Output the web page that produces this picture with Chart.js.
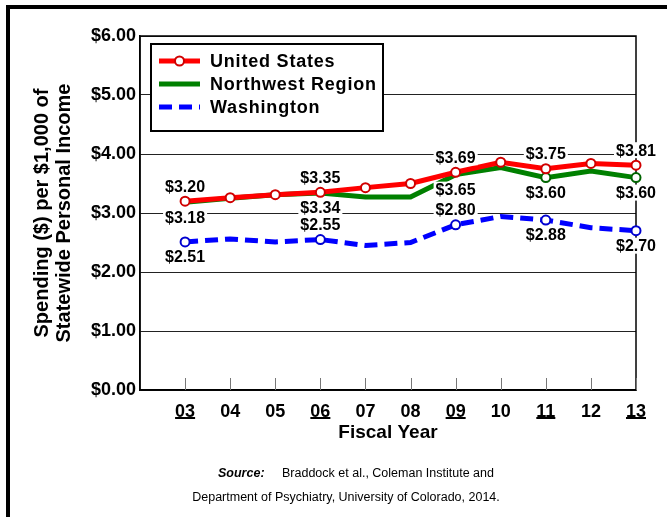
<!DOCTYPE html>
<html>
<head>
<meta charset="utf-8">
<script src="https://cdn.jsdelivr.net/npm/chart.js@4"></script>
<style>
  html, body { margin: 0; padding: 0; background: #fff; }
  #wrap { width: 667px; height: 517px; }
</style>
</head>
<body>
<div id="wrap"><canvas id="myChart" width="667" height="517"></canvas></div>
<script>
const ctx = document.getElementById("myChart").getContext("2d");

// data
const years = ["03", "04", "05", "06", "07", "08", "09", "10", "11", "12", "13"];
const usSpending = [3.20, 3.26, 3.31, 3.35, 3.43, 3.50, 3.69, 3.86, 3.75, 3.84, 3.81];
const nwSpending = [3.18, 3.25, 3.31, 3.34, 3.27, 3.27, 3.65, 3.77, 3.60, 3.71, 3.60];
const waSpending = [2.51, 2.56, 2.51, 2.55, 2.45, 2.50, 2.80, 2.94, 2.88, 2.75, 2.70];
const seriesNames = ["United States", "Northwest Region", "Washington"];
const labeledYears = ["03", "06", "09", "11", "13"];
const nwMarkerYears = ["11", "13"];

// label side per dataset, per labeled year (-1 above, +1 below)
const labelSides = [
  [-1, -1, -1, -1, -1],
  [1, 1, 1, 1, 1],
  [1, -1, -1, 1, 1],
];

const FONT = "'Liberation Sans', Arial, sans-serif";
const categories = [""].concat(years); // blank slot sits on the y axis
const pad = (arr) => [null].concat(arr);

const markerAt = (list) => (c) => (list.includes(categories[c.dataIndex]) ? 4.5 : 0);

// plot frame + inward ticks, under the lines
const plotFrame = {
  id: "plotFrame",
  beforeDatasetsDraw(chart) {
    const c = chart.ctx;
    const { left, right, top, bottom } = chart.chartArea;
    const x = chart.scales.x;
    c.save();
    c.strokeStyle = "#000";
    c.lineWidth = 1.5;
    c.strokeRect(left, top, right - left, bottom - top);

    c.strokeStyle = "#777";
    c.lineWidth = 1;
    for (let i = 1; i < categories.length; i++) {
      const px = Math.round(x.getPixelForTick(i)) + 0.5;
      c.beginPath();
      c.moveTo(px, bottom);
      c.lineTo(px, bottom - 12);
      c.stroke();
    }
    c.restore();
  },
};

// white boxed value labels
const valueLabels = {
  id: "valueLabels",
  afterDatasetsDraw(chart) {
    const c = chart.ctx;
    c.save();
    c.font = "bold 16px " + FONT;
    c.textAlign = "center";
    c.textBaseline = "middle";
    chart.data.datasets.forEach((ds, i) => {
      const meta = chart.getDatasetMeta(i);
      labeledYears.forEach((yr, k) => {
        const idx = categories.indexOf(yr);
        const pt = meta.data[idx];
        const text = "$" + ds.data[idx].toFixed(2);
        const y = pt.y + labelSides[i][k] * 15;
        const w = c.measureText(text).width + 4;
        c.fillStyle = "#fff";
        c.fillRect(pt.x - w / 2, y - 8, w, 16);
        c.fillStyle = "#000";
        c.fillText(text, pt.x, y + 1);
      });
    });
    c.restore();
  },
};

// underlines, titles, legend box, source note, outer frame
const decorations = {
  id: "decorations",
  afterDraw(chart) {
    const c = chart.ctx;
    const { left, right, top, bottom } = chart.chartArea;
    const x = chart.scales.x;
    c.save();

    // underline some year labels
    c.font = "bold 18px " + FONT;
    c.fillStyle = "#000";
    labeledYears.forEach((yr) => {
      const px = x.getPixelForTick(categories.indexOf(yr));
      const w = c.measureText(yr).width;
      c.fillRect(px - w / 2, 417, w, 2);
    });

    // axis titles
    c.textAlign = "center";
    c.textBaseline = "middle";
    c.font = "bold 19px " + FONT;
    c.fillText("Fiscal Year", (left + right) / 2, 433);
    c.save();
    c.translate(42, (top + bottom) / 2);
    c.rotate(-Math.PI / 2);
    c.font = "bold 20px " + FONT;
    c.fillText("Spending ($) per $1,000 of", 0, 0);
    c.fillText("Statewide Personal Income", 0, 22);
    c.restore();

    // legend
    const lx = 151, ly = 44, lw = 232, lh = 87;
    c.fillStyle = "#fff";
    c.fillRect(lx, ly, lw, lh);
    c.strokeStyle = "#000";
    c.lineWidth = 2;
    c.strokeRect(lx, ly, lw, lh);
    c.font = "bold 18px " + FONT;
    c.textAlign = "left";
    chart.data.datasets.forEach((ds, i) => {
      const ry = ly + 17 + i * 23;
      c.save();
      c.strokeStyle = ds.borderColor;
      c.lineWidth = ds.borderWidth;
      c.setLineDash(ds.borderDash || []);
      c.beginPath();
      c.moveTo(159, ry);
      c.lineTo(200, ry);
      c.stroke();
      c.restore();
      if (i === 0) {
        c.beginPath();
        c.arc(179.5, ry, 4.5, 0, 2 * Math.PI);
        c.fillStyle = "#fff";
        c.fill();
        c.strokeStyle = ds.pointBorderColor;
        c.lineWidth = 2;
        c.stroke();
      }
      c.fillStyle = "#000";
      c.letterSpacing = "0.8px";
      c.fillText(ds.label, 210, ry + 1);
      c.letterSpacing = "0px";
    });

    // source note
    c.textAlign = "left";
    c.font = "italic bold 12.5px " + FONT;
    c.fillText("Source:", 218, 474);
    c.font = "12.5px " + FONT;
    c.fillText("Braddock et al., Coleman Institute and", 282, 474);
    c.textAlign = "center";
    c.fillText("Department of Psychiatry, University of Colorado, 2014.", 346, 498);

    // outer frame (top and left)
    c.fillStyle = "#000";
    c.fillRect(6, 5, 661, 4);
    c.fillRect(6, 5, 4, 512);
    c.restore();
  },
};

const myChart = new Chart(ctx, {
  type: "line",
  data: {
    labels: categories,
    datasets: [
      {
        label: seriesNames[0],
        data: pad(usSpending),
        borderColor: "#ff0000",
        borderWidth: 5,
        pointRadius: 4.5,
        pointBackgroundColor: "#fff",
        pointBorderColor: "#d00000",
        pointBorderWidth: 2,
        tension: 0,
      },
      {
        label: seriesNames[1],
        data: pad(nwSpending),
        borderColor: "#008000",
        borderWidth: 5,
        pointRadius: markerAt(nwMarkerYears),
        pointBackgroundColor: "#fff",
        pointBorderColor: "#006400",
        pointBorderWidth: 2,
        tension: 0,
      },
      {
        label: seriesNames[2],
        data: pad(waSpending),
        borderColor: "#0000ff",
        borderWidth: 5,
        borderDash: [13, 7],
        pointRadius: markerAt(labeledYears),
        pointBackgroundColor: "#fff",
        pointBorderColor: "#0000d0",
        pointBorderWidth: 2,
        tension: 0,
      },
    ],
  },
  options: {
    responsive: false,
    animation: false,
    layout: {
      padding: { top: 36, right: 31, left: 0, bottom: 0 },
    },
    scales: {
      x: {
        afterFit(scale) {
          scale.height = 127;
        },
        border: { display: true, color: "#000", width: 1.5 },
        grid: { display: false, drawTicks: false },
        ticks: {
          color: "#000",
          padding: 11,
          maxRotation: 0,
          autoSkip: false,
          font: { family: FONT, size: 18, weight: "bold" },
        },
      },
      y: {
        min: 0,
        max: 6,
        afterFit(scale) {
          scale.width = 140;
        },
        border: { display: true, color: "#000", width: 1.5 },
        grid: { color: "#222", lineWidth: 1, drawTicks: false },
        ticks: {
          stepSize: 1,
          color: "#000",
          padding: 4,
          font: { family: FONT, size: 18, weight: "bold" },
          callback: (v) => "$" + Number(v).toFixed(2),
        },
      },
    },
    plugins: {
      legend: { display: false },
      tooltip: { enabled: false },
    },
  },
  plugins: [plotFrame, valueLabels, decorations],
});
</script>
</body>
</html>
